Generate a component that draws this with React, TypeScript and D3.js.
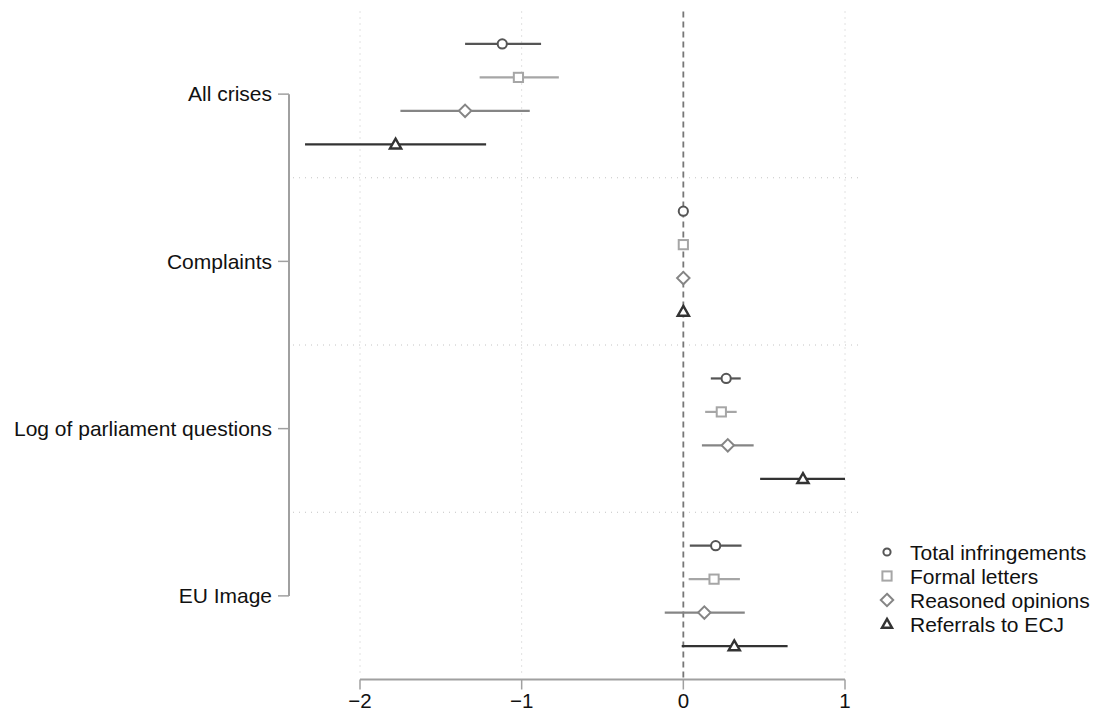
import React from 'react';
import * as d3 from 'd3';

// coefficient plot data
const categories = ['All crises', 'Complaints', 'Log of parliament questions', 'EU Image'];
const seriesNames = ['Total infringements', 'Formal letters', 'Reasoned opinions', 'Referrals to ECJ'];
const seriesColors = ['#555555', '#a6a6a6', '#858585', '#333333'];
const seriesShapes = ['circle', 'square', 'diamond', 'triangle'];

// estimates per category, one per series
const estimates = [
  [-1.12, -1.02, -1.35, -1.78],
  [0.0, 0.0, 0.0, 0.0],
  [0.265, 0.235, 0.275, 0.74],
  [0.2, 0.19, 0.13, 0.315],
];
const lower = [
  [-1.35, -1.26, -1.75, -2.34],
  [-0.005, -0.005, -0.005, -0.005],
  [0.17, 0.135, 0.115, 0.475],
  [0.04, 0.033, -0.115, -0.01],
];
const upper = [
  [-0.88, -0.77, -0.95, -1.22],
  [0.005, 0.005, 0.005, 0.005],
  [0.355, 0.33, 0.435, 1.0],
  [0.36, 0.35, 0.38, 0.645],
];
const xTicks = [-2, -1, 0, 1];

const FONT = '"Liberation Sans", Arial, Helvetica, sans-serif';

function Marker({ shape, x, y, color, k = 1 }: { shape: string; x: number; y: number; color: string; k?: number }) {
  const sw = 2;
  if (shape === 'circle') return <circle cx={x} cy={y} r={4.6 * k} fill="#fff" stroke={color} strokeWidth={sw} />;
  if (shape === 'square') return <rect x={x - 4.6} y={y - 4.6} width={9.2} height={9.2} fill="#fff" stroke={color} strokeWidth={sw} />;
  if (shape === 'diamond') {
    const s = 6.2;
    return <path d={`M${x},${y - s}L${x + s},${y}L${x},${y + s}L${x - s},${y}Z`} fill="#fff" stroke={color} strokeWidth={sw} />;
  }
  const s = 5.6 * k;
  return <path d={`M${x},${y - s}L${x + s},${y + s * 0.75}L${x - s},${y + s * 0.75}Z`} fill="#fff" stroke={color} strokeWidth={sw + 0.4} strokeLinejoin="miter" />;
}

export default function App() {
  const width = 1094;
  const height = 715;

  const x = d3.scaleLinear().domain([-2, 1]).range([360, 845]);
  const y = d3.scaleLinear().domain([-1, 19]).range([10.5, 679.5]);

  const rowIndex = (ci: number, si: number) => ci * 5 + si;
  const catCenter = (ci: number) => y(ci * 5 + 1.5);

  const gridTop = y(-1) + 1;
  const gridBottom = y(19) - 6;

  return (
    <svg width={width} height={height} style={{ position: 'absolute', left: 0, top: 0, background: '#fff' }} fontFamily={FONT}>
      <rect width={width} height={height} fill="#fff" />
      {/* vertical dotted grid */}
      {xTicks.filter((t) => t !== 0).map((t) => (
        <line key={t} x1={x(t)} x2={x(t)} y1={gridTop} y2={gridBottom} stroke="#c4c4c4" strokeWidth={1} strokeDasharray="1,5" />
      ))}
      {/* horizontal separators */}
      {[4, 9, 14].map((r) => (
        <line key={r} x1={293} x2={862} y1={y(r)} y2={y(r)} stroke="#c4c4c4" strokeWidth={1} strokeDasharray="1,5" />
      ))}
      {/* zero line */}
      <line x1={x(0)} x2={x(0)} y1={gridTop} y2={y(19)} stroke="#777" strokeWidth={1.8} strokeDasharray="6,4" />

      {/* y axis */}
      <line x1={289} x2={289} y1={catCenter(0)} y2={catCenter(3)} stroke="#a0a0a0" strokeWidth={2} />
      {categories.map((c, ci) => (
        <g key={c}>
          <line x1={278} x2={289} y1={catCenter(ci)} y2={catCenter(ci)} stroke="#a0a0a0" strokeWidth={1.5} />
          <text x={272} y={catCenter(ci)} dy="0.35em" textAnchor="end" fontSize={21} fill="#111">{c}</text>
        </g>
      ))}

      {/* x axis */}
      <line x1={x(-2)} x2={x(1)} y1={y(19)} y2={y(19)} stroke="#a0a0a0" strokeWidth={2} />
      {xTicks.map((t) => (
        <g key={t}>
          <line x1={x(t)} x2={x(t)} y1={y(19)} y2={y(19) + 10} stroke="#a0a0a0" strokeWidth={1.5} />
          <text x={x(t)} y={708} textAnchor="middle" fontSize={20.5} fill="#111">{t < 0 ? `\u2212${Math.abs(t)}` : t}</text>
        </g>
      ))}

      {/* intervals and points */}
      {categories.map((c, ci) =>
        seriesNames.map((s, si) => {
          const yy = y(rowIndex(ci, si));
          return (
            <g key={c + s}>
              <line x1={x(lower[ci][si])} x2={x(upper[ci][si])} y1={yy} y2={yy} stroke={seriesColors[si]} strokeWidth={2.2} />
              <Marker shape={seriesShapes[si]} x={x(estimates[ci][si])} y={yy} color={seriesColors[si]} />
            </g>
          );
        })
      )}

      {/* legend */}
      {seriesNames.map((s, si) => {
        const ly = 552 + si * 24;
        return (
          <g key={s}>
            <Marker shape={seriesShapes[si]} x={887} y={ly} color={seriesColors[si]} k={si === 0 ? 0.78 : 0.9} />
            <text x={910} y={ly} dy="0.36em" fontSize={21} fill="#111">{s}</text>
          </g>
        );
      })}
    </svg>
  );
}
